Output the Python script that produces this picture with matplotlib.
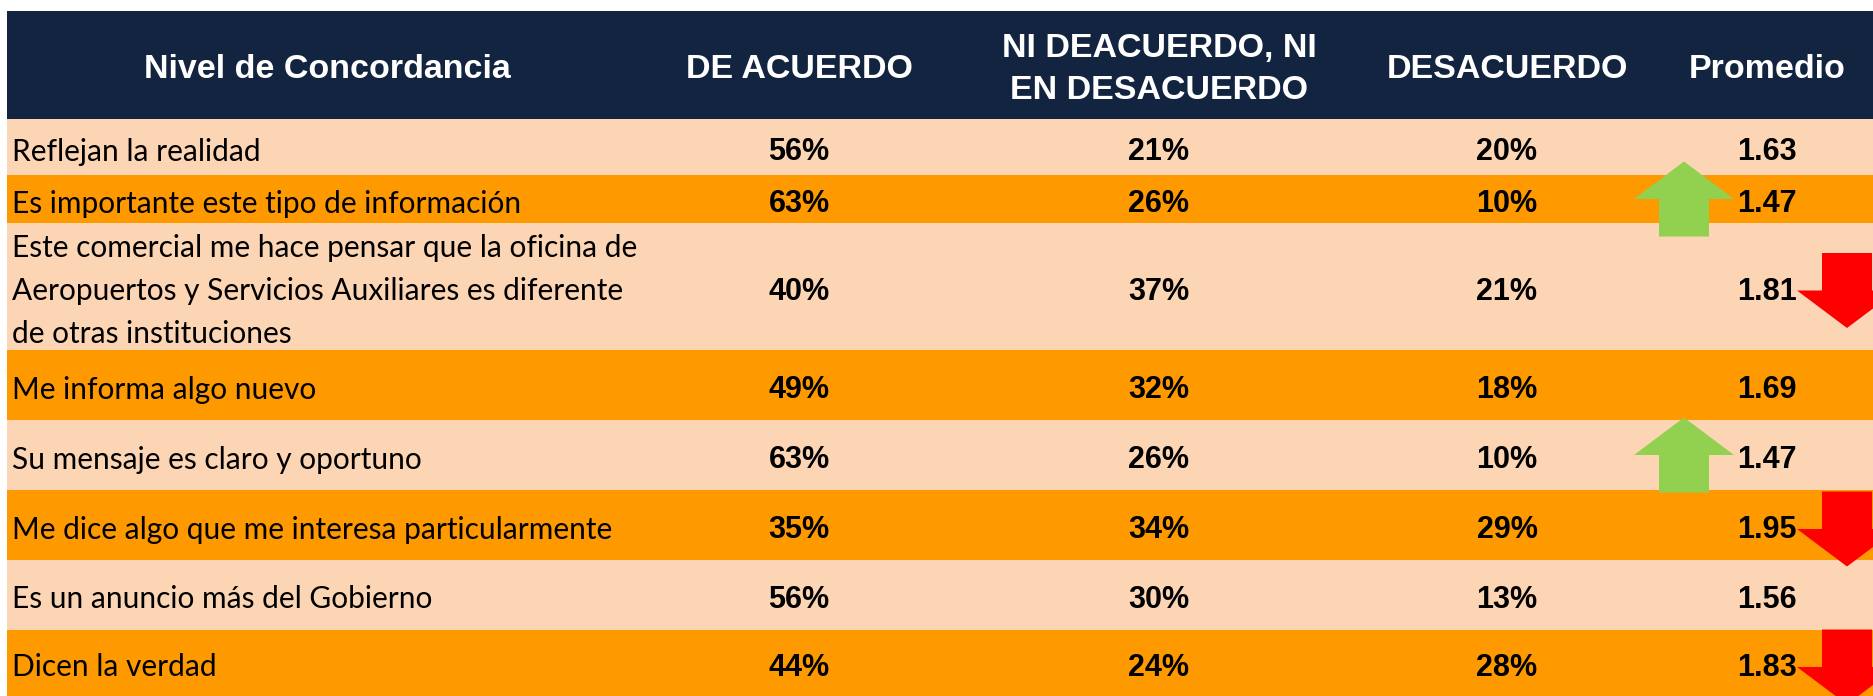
import matplotlib
matplotlib.use("Agg")
import matplotlib.pyplot as plt
from matplotlib.patches import Rectangle, Polygon

# datos de la tabla
headers = ["Nivel de Concordancia", "DE ACUERDO", "NI DEACUERDO, NI\nEN DESACUERDO", "DESACUERDO", "Promedio"]
labels = [
    "Reflejan la realidad",
    "Es importante este tipo de información",
    "Este comercial me hace pensar que la oficina de\nAeropuertos y Servicios Auxiliares es diferente\nde otras instituciones",
    "Me informa algo nuevo",
    "Su mensaje es claro y oportuno",
    "Me dice algo que me interesa particularmente",
    "Es un anuncio más del Gobierno",
    "Dicen la verdad",
]
acuerdo = [56, 63, 40, 49, 63, 35, 56, 44]
ni_ni = [21, 26, 37, 32, 26, 34, 30, 24]
desacuerdo = [20, 10, 21, 18, 10, 29, 13, 28]
promedio = [1.63, 1.47, 1.81, 1.69, 1.47, 1.95, 1.56, 1.83]
tendencia = ["", "up", "down", "", "up", "down", "", "down"]

# layout en pixeles
W, H = 1873, 696
row_edges = [119, 175, 223, 350, 420, 490, 560, 630, 696]
col_x = [327, 799, 1159, 1507, 1767]
navy = "#12243f"
peach = "#fcd5b4"
orange = "#ff9900"
green = "#92d050"
red = "#ff0000"

fig = plt.figure(figsize=(W / 100, H / 100), dpi=100)
ax = fig.add_axes([0, 0, 1, 1])
ax.set_xlim(0, W)
ax.set_ylim(H, 0)
ax.axis("off")

# encabezado
ax.add_patch(Rectangle((7, 11), W - 7, 108, color=navy, lw=0))
for i, h in enumerate(headers):
    lines = h.split("\n")
    n = len(lines)
    for k, ln in enumerate(lines):
        base = 78 + (k - (n - 1) / 2) * 42
        ax.text(col_x[i], base, ln, ha="center", va="baseline", color="white",
                fontsize=24.5, fontweight="bold", family="Liberation Sans")

# filas
for r in range(len(labels)):
    y0, y1 = row_edges[r], row_edges[r + 1]
    yc = (y0 + y1) / 2
    ax.add_patch(Rectangle((7, y0), W - 7, y1 - y0, color=peach if r % 2 == 0 else orange, lw=0))
    lines = labels[r].split("\n")
    n = len(lines)
    for k, ln in enumerate(lines):
        base = yc + 13.5 + (k - (n - 1) / 2) * 43
        ax.text(12, base, ln, ha="left", va="baseline", fontsize=21.5,
                family="Lato", color="black")
    vals = [f"{acuerdo[r]}%", f"{ni_ni[r]}%", f"{desacuerdo[r]}%", f"{promedio[r]:.2f}"]
    for j, v in enumerate(vals):
        ax.text(col_x[j + 1], yc + 13.5, v, ha="center", va="baseline", fontsize=22,
                fontweight="bold", family="Liberation Sans", color="black")

    # flechas de tendencia
    if tendencia[r] == "up":
        cx, cy, s = 1684, yc, -1
        col = green
    elif tendencia[r] == "down":
        cx, cy, s = 1847, yc + 4, 1
        col = red
    else:
        continue
    top = cy - 37.5 * s
    mid = cy
    tip = cy + 37.5 * s
    pts = [(cx - 25, top), (cx + 25, top), (cx + 25, mid), (cx + 50, mid),
           (cx, tip), (cx - 50, mid), (cx - 25, mid)]
    ax.add_patch(Polygon(pts, closed=True, color=col, lw=0, zorder=3))

fig.savefig("out.png", dpi=100)
